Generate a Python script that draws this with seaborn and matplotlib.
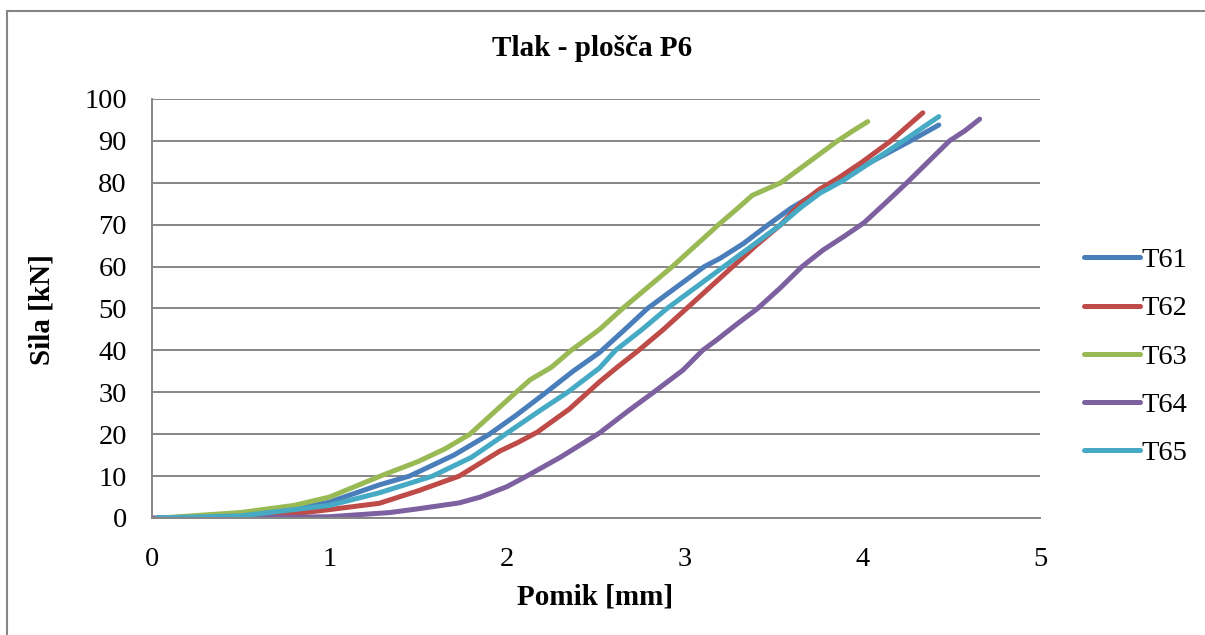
import matplotlib
matplotlib.use("Agg")
import matplotlib.pyplot as plt
from matplotlib.lines import Line2D
import seaborn as sns
import pandas as pd

# Displacement [mm] and force [kN] readings for each specimen
t61_d = [0.03, 0.3, 0.6, 0.8, 1.0, 1.28, 1.45, 1.7, 1.9, 2.05, 2.22, 2.37, 2.52, 2.65, 2.79, 2.95, 3.11, 3.2, 3.33, 3.47, 3.6, 3.76, 3.87, 4.05, 4.27, 4.43]
t61_f = [0, 0.2, 1.0, 2.0, 3.8, 7.9, 10.0, 15.0, 20.0, 24.5, 30.0, 35.0, 39.5, 44.5, 50.0, 55.0, 60.0, 62.0, 65.5, 70.0, 74.0, 78.0, 80.5, 85.0, 90.0, 93.8]

t62_d = [0.05, 0.5, 0.8, 1.0, 1.28, 1.5, 1.73, 1.96, 2.06, 2.17, 2.35, 2.52, 2.62, 2.74, 2.88, 3.01, 3.14, 3.27, 3.4, 3.54, 3.65, 3.76, 3.86, 4.0, 4.16, 4.28, 4.34]
t62_f = [0, 0.3, 1.0, 2.0, 3.5, 6.5, 10.0, 16.0, 18.0, 20.5, 26.0, 32.5, 36.0, 40.0, 45.0, 50.0, 55.0, 60.0, 65.0, 70.0, 75.0, 78.5, 81.0, 85.0, 90.0, 94.5, 96.7]

t63_d = [0.05, 0.5, 0.8, 1.0, 1.28, 1.5, 1.65, 1.79, 1.92, 2.05, 2.13, 2.25, 2.36, 2.52, 2.65, 2.79, 2.93, 3.06, 3.19, 3.3, 3.38, 3.54, 3.7, 3.86, 3.95, 4.03]
t63_f = [0, 1.3, 3.0, 5.0, 9.9, 13.5, 16.5, 20.0, 25.0, 30.0, 33.0, 36.0, 40.0, 45.0, 50.0, 55.0, 60.0, 65.0, 70.0, 74.0, 77.0, 80.0, 85.0, 90.0, 92.5, 94.6]

t64_d = [0.0, 0.5, 1.0, 1.34, 1.5, 1.73, 1.85, 2.0, 2.11, 2.3, 2.52, 2.68, 2.84, 2.99, 3.1, 3.18, 3.3, 3.41, 3.54, 3.66, 3.78, 3.9, 4.01, 4.13, 4.25, 4.37, 4.49, 4.58, 4.66]
t64_f = [0, 0, 0.3, 1.3, 2.2, 3.6, 5.0, 7.5, 10.0, 14.5, 20.3, 25.5, 30.5, 35.3, 40.0, 42.5, 46.5, 50.0, 55.0, 60.0, 64.0, 67.3, 70.5, 75.2, 80.0, 85.0, 90.0, 92.5, 95.2]

t65_d = [0.03, 0.5, 1.0, 1.28, 1.58, 1.8, 1.99, 2.18, 2.34, 2.52, 2.61, 2.76, 2.9, 3.06, 3.22, 3.38, 3.54, 3.65, 3.76, 3.89, 4.05, 4.23, 4.35, 4.43]
t65_f = [0, 0.5, 3.0, 6.0, 10.0, 14.5, 20.0, 25.5, 30.0, 35.8, 40.0, 45.0, 50.0, 55.0, 60.0, 65.0, 70.0, 74.0, 77.5, 80.5, 85.0, 90.0, 93.5, 95.8]

series = ["T61", "T62", "T63", "T64", "T65"]
colors = ["#4A7EBB", "#BE4B48", "#98B954", "#7D60A0", "#46AAC5"]
x_ticks = [0, 1, 2, 3, 4, 5]
y_ticks = [0, 10, 20, 30, 40, 50, 60, 70, 80, 90, 100]

frames = []
for name, d, f in zip(series,
                      [t61_d, t62_d, t63_d, t64_d, t65_d],
                      [t61_f, t62_f, t63_f, t64_f, t65_f]):
    frames.append(pd.DataFrame({"Pomik": d, "Sila": f, "Vzorec": name}))
df = pd.concat(frames, ignore_index=True)

sns.set_theme(style="white")
plt.rcParams["font.family"] = ["Liberation Serif", "DejaVu Serif"]
plt.rcParams["text.color"] = "black"

fig = plt.figure(figsize=(12.05, 6.35), dpi=100)
ax = fig.add_axes([0.1261, 0.1843, 0.8631 - 0.1261, 0.8441 - 0.1843])

grid_color = "#868686"

sns.lineplot(data=df, x="Pomik", y="Sila", hue="Vzorec", hue_order=series,
             palette=dict(zip(series, colors)), sort=False, estimator=None,
             linewidth=3.6, ax=ax, legend=True)
for line in ax.get_lines():
    line.set_solid_capstyle("round")
    line.set_solid_joinstyle("round")

ax.set_xlim(0, 5)
ax.set_ylim(0, 100)
ax.set_xticks(x_ticks)
ax.set_yticks(y_ticks)
ax.set_xticklabels([str(v) for v in x_ticks])
ax.set_yticklabels([str(v) for v in y_ticks])
ax.tick_params(axis="both", length=0, labelsize=20.5, colors="black")
ax.tick_params(axis="y", pad=18)
ax.tick_params(axis="x", pad=21)

ax.yaxis.grid(True, color=grid_color, linewidth=1.4)
ax.xaxis.grid(False)
ax.set_axisbelow(True)
for side in ["top", "right"]:
    ax.spines[side].set_visible(False)
for side in ["left", "bottom"]:
    ax.spines[side].set_color(grid_color)
    ax.spines[side].set_linewidth(1.4)

ax.set_xlabel("")
ax.set_ylabel("")
fig.text(0.494, 0.060, "Pomik [mm]", ha="center", va="center",
         fontsize=21, fontweight="bold", color="black")
fig.text(0.035, 0.512, "Sila [kN]", ha="center", va="center",
         rotation=90, fontsize=21, fontweight="bold", color="black")
fig.text(0.491, 0.924, "Tlak - plošča P6", ha="center", va="center",
         fontsize=21, fontweight="bold", color="black")

handles, labels = ax.get_legend_handles_labels()
leg = ax.legend(handles, labels, loc="center left",
                bbox_to_anchor=(1.037, 0.385), frameon=False,
                fontsize=20.5, handlelength=1.95, handletextpad=0.06,
                labelspacing=0.78, borderaxespad=0)
for h in leg.get_lines():
    h.set_linewidth(3.6)
    h.set_solid_capstyle("round")
for t in leg.get_texts():
    t.set_color("black")

# Outer chart frame
frame_kw = dict(color=grid_color, linewidth=1.5, transform=fig.transFigure)
fig.add_artist(Line2D([0.0062, 0.0062], [0.0, 0.9819], **frame_kw))
fig.add_artist(Line2D([0.0062, 1.0], [0.9819, 0.9819], **frame_kw))

fig.savefig("out.png", dpi=100)
